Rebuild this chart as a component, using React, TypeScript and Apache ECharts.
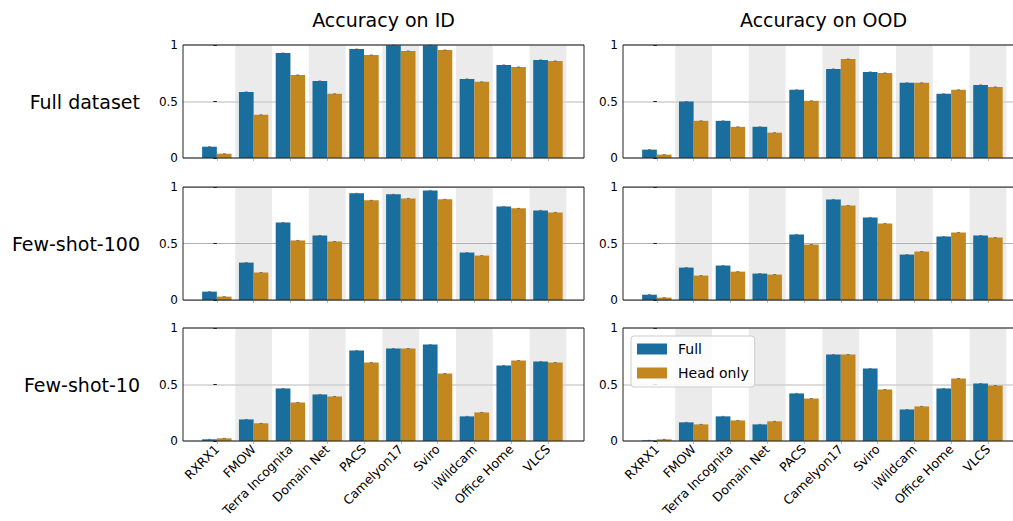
import React, { useEffect, useRef } from "react";
import * as echarts from "echarts";

const categories = ["RXRX1", "FMOW", "Terra Incognita", "Domain Net", "PACS", "Camelyon17", "Sviro", "iWildcam", "Office Home", "VLCS"];
const shadedIndices = [1, 3, 5, 7, 9];
const rowLabels = ["Full dataset", "Few-shot-100", "Few-shot-10"];
const columnTitles = ["Accuracy on ID", "Accuracy on OOD"];
const seriesNames = ["Full", "Head only"];

// Full dataset
const fullDatasetIdFull = [0.10, 0.585, 0.929, 0.682, 0.965, 0.998, 0.998, 0.70, 0.824, 0.868];
const fullDatasetIdHead = [0.038, 0.382, 0.735, 0.568, 0.912, 0.947, 0.956, 0.674, 0.806, 0.859];
const fullDatasetOodFull = [0.074, 0.50, 0.329, 0.276, 0.603, 0.788, 0.762, 0.665, 0.568, 0.647];
const fullDatasetOodHead = [0.03, 0.329, 0.276, 0.224, 0.506, 0.876, 0.753, 0.665, 0.603, 0.629];
// Few-shot-100
const fewShot100IdFull = [0.074, 0.331, 0.686, 0.571, 0.944, 0.935, 0.970, 0.42, 0.828, 0.793];
const fewShot100IdHead = [0.03, 0.243, 0.527, 0.518, 0.882, 0.899, 0.891, 0.393, 0.811, 0.775];
const fewShot100OodFull = [0.047, 0.287, 0.305, 0.234, 0.58, 0.89, 0.731, 0.402, 0.562, 0.571];
const fewShot100OodHead = [0.021, 0.216, 0.251, 0.225, 0.491, 0.837, 0.678, 0.429, 0.598, 0.553];
// Few-shot-10
const fewShot10IdFull = [0.015, 0.191, 0.465, 0.412, 0.80, 0.818, 0.853, 0.218, 0.668, 0.703];
const fewShot10IdHead = [0.024, 0.156, 0.341, 0.394, 0.694, 0.818, 0.597, 0.253, 0.712, 0.694];
const fewShot10OodFull = [0.006, 0.165, 0.218, 0.147, 0.421, 0.765, 0.641, 0.279, 0.465, 0.509];
const fewShot10OodHead = [0.015, 0.147, 0.182, 0.174, 0.376, 0.765, 0.456, 0.306, 0.553, 0.491];

const panels = [
  [[fullDatasetIdFull, fullDatasetIdHead], [fullDatasetOodFull, fullDatasetOodHead]],
  [[fewShot100IdFull, fewShot100IdHead], [fewShot100OodFull, fewShot100OodHead]],
  [[fewShot10IdFull, fewShot10IdHead], [fewShot10OodFull, fewShot10OodHead]],
];

const COLORS = ["#1a6e9e", "#c3871f"];
const FONT = "DejaVu Sans";
const COL_LEFT = [183, 623];
const PANEL_W = 401;
const ROW_TOP = [45, 187, 328];
const PANEL_H = 113;
const X_MIN = -0.92;
const X_MAX = 9.98;
const GRID_STYLES = [
  { color: "#d0d0d0", width: 1.5 },
  { color: "#b0b0b0", width: 1 },
  { color: "#d0d0d0", width: 1.5 },
];

function buildOption() {
  const grid: any[] = [];
  const xAxis: any[] = [];
  const yAxis: any[] = [];
  const series: any[] = [];
  const graphic: any[] = [];
  const tickIdx = categories.map((_, i) => i);

  for (let r = 0; r < 3; r++) {
    for (let c = 0; c < 2; c++) {
      const g = r * 2 + c;
      grid.push({
        left: COL_LEFT[c],
        top: ROW_TOP[r],
        width: PANEL_W,
        height: PANEL_H,
        containLabel: false,
        outerBoundsMode: "none",
        show: true,
        borderColor: "#222",
        borderWidth: 1,
        backgroundColor: "transparent",
        z: 3,
      });
      const isBottom = r === 2;
      xAxis.push({
        type: "value",
        gridIndex: g,
        min: X_MIN,
        max: X_MAX,
        axisLine: { show: false },
        splitLine: { show: false },
        axisTick: {
          show: true,
          customValues: tickIdx,
          length: 3,
          lineStyle: { color: "#bbbbbb" },
        },
        axisLabel: {
          show: isBottom,
          customValues: tickIdx,
          rotate: 45,
          margin: 6,
          fontFamily: FONT,
          fontSize: 12.5,
          color: "#000",
          formatter: (v: number) => categories[Math.round(v)] ?? "",
        },
      });
      xAxis.push({
        type: "value",
        gridIndex: g,
        min: X_MIN,
        max: X_MAX,
        show: false,
      });
      yAxis.push({
        type: "value",
        gridIndex: g,
        min: 0,
        max: 1,
        interval: 0.5,
        z: 1.5,
        axisLine: { show: false },
        axisTick: { show: true, length: 3.5, lineStyle: { color: "#222" } },
        axisLabel: { margin: 5, fontFamily: FONT, fontSize: 12, color: "#000" },
        splitLine: { show: true, lineStyle: { color: GRID_STYLES[r].color, width: GRID_STYLES[r].width } },
      });

      const [fullVals, headVals] = panels[r][c];
      const xi = g * 2;
      series.push({
        type: "bar",
        name: "band",
        xAxisIndex: xi + 1,
        yAxisIndex: g,
        barWidth: "50%",
        itemStyle: { color: "#ebebeb" },
        z: 1,
        silent: true,
        data: shadedIndices.map((i) => [i, 1]),
      });
      [fullVals, headVals].forEach((vals, s) => {
        series.push({
          type: "bar",
          name: seriesNames[s],
          xAxisIndex: xi,
          yAxisIndex: g,
          barWidth: "40%",
          barGap: "0%",
          itemStyle: { color: COLORS[s] },
          z: 2,
          data: vals.map((v, i) => [i, v]),
        });
      });
      series.push({
        type: "scatter",
        name: "err",
        xAxisIndex: xi,
        yAxisIndex: g,
        symbol: "rect",
        symbolSize: [3, 1],
        itemStyle: { color: "#555", opacity: 0.7 },
        z: 2.5,
        silent: true,
        data: [
          ...fullVals.map((v, i) => [i - 0.2, v]),
          ...headVals.map((v, i) => [i + 0.2, v]),
        ],
      });
    }
  }

  columnTitles.forEach((t, c) => {
    graphic.push({
      type: "text",
      x: COL_LEFT[c] + PANEL_W / 2,
      y: 20,
      style: { text: t, fontFamily: FONT, fontSize: 19, fill: "#000", align: "center", verticalAlign: "middle" },
    });
  });
  rowLabels.forEach((t, r) => {
    graphic.push({
      type: "text",
      x: 140,
      y: ROW_TOP[r] + PANEL_H / 2,
      style: { text: t, fontFamily: FONT, fontSize: 19, fill: "#000", align: "right", verticalAlign: "middle" },
    });
  });

  return {
    animation: false,
    backgroundColor: "#fff",
    textStyle: { fontFamily: FONT },
    grid,
    xAxis,
    yAxis,
    series,
    graphic,
    legend: {
      data: seriesNames,
      orient: "vertical",
      left: 631,
      top: 336,
      icon: "rect",
      itemWidth: 30,
      itemHeight: 11,
      itemGap: 10,
      padding: [6, 6, 7, 6],
      backgroundColor: "rgba(255,255,255,0.85)",
      borderColor: "#cccccc",
      borderWidth: 1,
      borderRadius: 3,
      selectedMode: false,
      textStyle: { fontFamily: FONT, fontSize: 14, color: "#000", padding: [0, 0, 0, 6] },
      z: 10,
    },
  };
}

export default function App() {
  const ref = useRef<HTMLDivElement>(null);
  useEffect(() => {
    if (!ref.current) return;
    const chart = echarts.init(ref.current, undefined, { renderer: "svg" });
    chart.setOption(buildOption() as any);
    return () => chart.dispose();
  }, []);
  return (
    <div
      style={{ position: "absolute", left: 0, top: 0, width: 1013, height: 521, overflow: "hidden", background: "#fff" }}
    >
      <div ref={ref} style={{ width: 1045, height: 521 }} />
    </div>
  );
}
